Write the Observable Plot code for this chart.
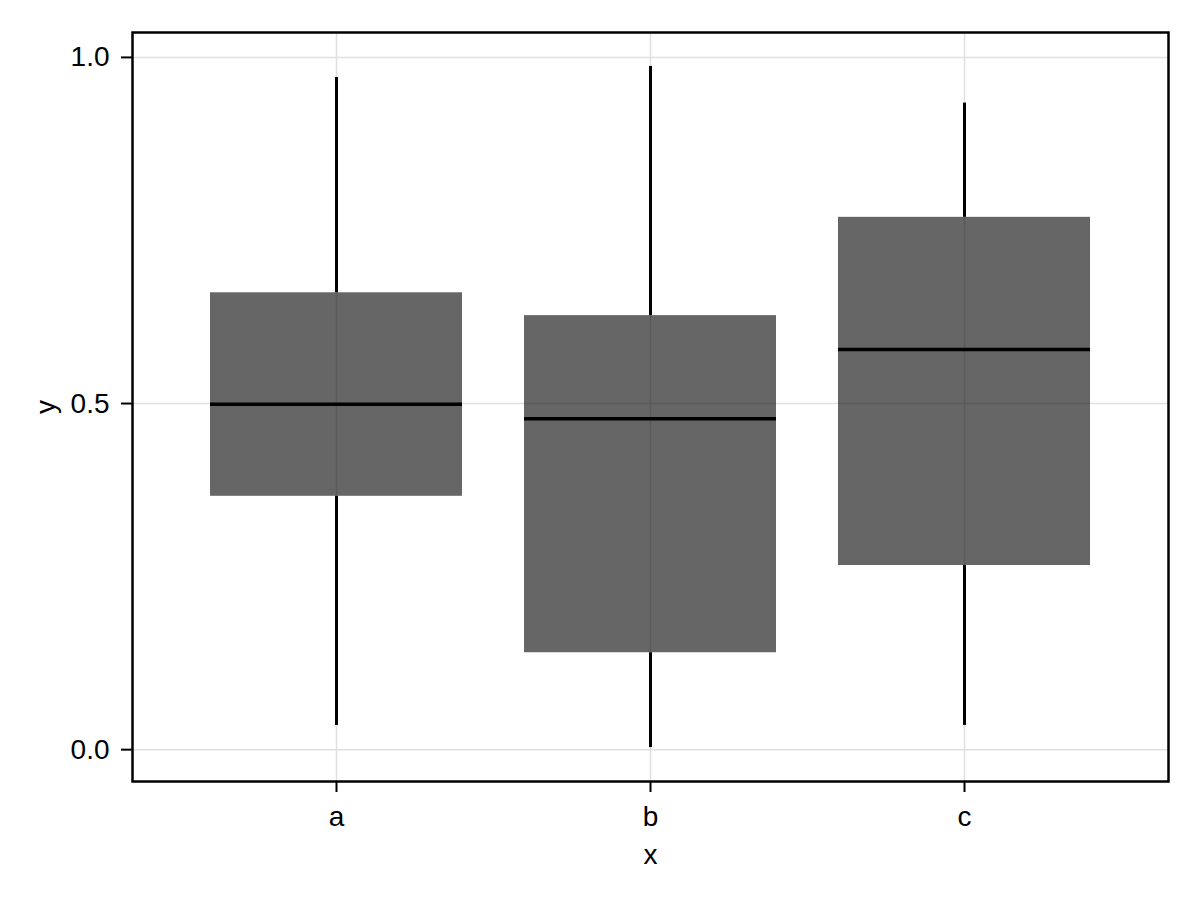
<!DOCTYPE html>
<html>
<head>
<meta charset="utf-8">
<script src="https://cdn.jsdelivr.net/npm/d3@7"></script>
<script src="https://cdn.jsdelivr.net/npm/@observablehq/plot@0.6"></script>
<style>
  html, body { margin: 0; padding: 0; background: #fff; }
  #chart { width: 1200px; height: 900px; }
</style>
</head>
<body>
<div id="chart"></div>
<script>
const categories = ["a", "b", "c"];
const q1 = [0.366, 0.140, 0.266];
const medians = [0.499, 0.478, 0.578];
const q3 = [0.660, 0.627, 0.769];
const whiskerLow = [0.035, 0.003, 0.035];
const whiskerHigh = [0.971, 0.987, 0.934];
const yTicks = [0, 0.5, 1.0];

const data = categories.map((c, i) => ({
  x: c, q1: q1[i], med: medians[i], q3: q3[i], lo: whiskerLow[i], hi: whiskerHigh[i]
}));

const plot = Plot.plot({
  width: 1200,
  height: 900,
  marginLeft: 132,
  marginRight: 32,
  marginTop: 32,
  marginBottom: 119,
  style: { fontFamily: "Liberation Sans, Arial, sans-serif", fontSize: "28px", color: "#000", background: "#fff" },
  x: { domain: categories, type: "band", paddingInner: 0.1975, paddingOuter: 0.248 },
  y: { domain: [-0.046, 1.036] },
  marks: [
    Plot.gridY(yTicks, { stroke: "#e0e0e0", strokeOpacity: 1, strokeWidth: 1.5 }),
    Plot.gridX(categories, { stroke: "#e0e0e0", strokeOpacity: 1, strokeWidth: 1.5 }),
    Plot.ruleX(data, { x: "x", y1: "lo", y2: "q1", stroke: "#000", strokeWidth: 3 }),
    Plot.ruleX(data, { x: "x", y1: "q3", y2: "hi", stroke: "#000", strokeWidth: 3 }),
    Plot.barY(data, { x: "x", y1: "q1", y2: "q3", fill: "#000", fillOpacity: 0.6, inset: 0 }),
    Plot.tickY(data, { x: "x", y: "med", stroke: "#000", strokeWidth: 3.5 }),
    Plot.axisY(yTicks, { tickFormat: d3.format(".1f"), tickSize: 11, tickPadding: 12, strokeWidth: 2, fontSize: 28, label: "y", labelAnchor: "center", labelArrow: "none", labelOffset: 97 }),
    Plot.axisX(categories, { tickSize: 11, tickPadding: 14, strokeWidth: 2, fontSize: 28, label: "x", labelAnchor: "center", labelArrow: "none", labelOffset: 82 }),
    Plot.frame({ stroke: "#000", strokeWidth: 2.5 })
  ]
});
document.getElementById("chart").appendChild(plot);
</script>
</body>
</html>
